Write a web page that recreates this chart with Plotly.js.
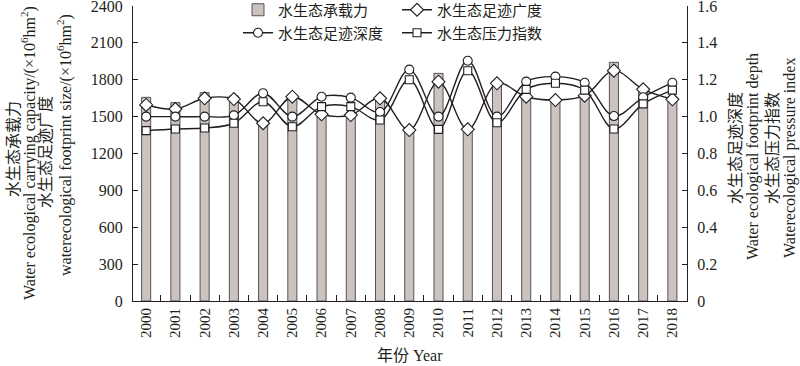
<!DOCTYPE html>
<html>
<head>
<meta charset="utf-8">
<script src="https://cdn.plot.ly/plotly-3.0.1.min.js"></script>
<style>html,body{margin:0;padding:0;background:#fff;}#chart{width:800px;height:366px;}</style>
</head>
<body>
<div id="chart"></div>
<script>
// ---- data ----
var years = ["2000","2001","2002","2003","2004","2005","2006","2007","2008","2009","2010","2011","2012","2013","2014","2015","2016","2017","2018"];
var carryingCapacity = [1657, 1614, 1695, 1668, 1430, 1680, 1510, 1500, 1630, 1380, 1852, 1380, 1757, 1665, 1630, 1670, 1942, 1720, 1662];
var footprintSize = [1595, 1562, 1649, 1643, 1446, 1662, 1519, 1513, 1649, 1391, 1784, 1397, 1771, 1662, 1635, 1670, 1874, 1722, 1641];
var footprintDepth = [1.00, 1.00, 1.00, 1.007, 1.127, 1.00, 1.108, 1.103, 1.025, 1.255, 1.00, 1.303, 1.00, 1.19, 1.217, 1.184, 1.003, 1.105, 1.184];
var pressureIndex = [0.924, 0.933, 0.938, 0.964, 1.081, 0.945, 1.054, 1.054, 0.982, 1.20, 0.931, 1.249, 0.967, 1.148, 1.181, 1.144, 0.933, 1.069, 1.144];

var leftTicks = [0, 300, 600, 900, 1200, 1500, 1800, 2100, 2400];
var rightTickVals = [0, 0.2, 0.4, 0.6, 0.8, 1.0, 1.2, 1.4, 1.6];
var rightTickText = ["0", "0.2", "0.4", "0.6", "0.8", "1.0", "1.2", "1.4", "1.6"];

var names = ["水生态承载力", "水生态足迹广度", "水生态足迹深度", "水生态压力指数"];

var FONT = "Liberation Serif, Noto Sans CJK SC, serif";
var INK = "#231f20";

var lineStyle = {color: INK, width: 1.4, shape: "spline", smoothing: 1};
function mk(sym, size) {
  return {symbol: sym, size: size, color: "#ffffff", line: {color: INK, width: 1.1}};
}

var traces = [
  {type: "bar", x: years, y: carryingCapacity, name: names[0], width: 0.31,
   marker: {color: "#cbc3bf", line: {color: "#5a5252", width: 1}}, legend: "legend"},
  {type: "scatter", mode: "lines+markers", x: years, y: footprintSize, name: names[1],
   line: lineStyle, marker: mk("diamond", 10), legend: "legend"},
  {type: "scatter", mode: "lines+markers", x: years, y: footprintDepth, name: names[2], yaxis: "y2",
   line: lineStyle, marker: mk("circle", 9), legend: "legend2"},
  {type: "scatter", mode: "lines+markers", x: years, y: pressureIndex, name: names[3], yaxis: "y2",
   line: lineStyle, marker: mk("square", 8), legend: "legend2"}
];

function px2x(px) { return (px - 133) / 554; }
function px2y(py) { return (301 - py) / 295; }

function vtitle(text, cx, cy, size) {
  return {text: text, xref: "paper", yref: "paper", x: px2x(cx), y: px2y(cy),
          xanchor: "center", yanchor: "middle", textangle: -90, showarrow: false,
          font: {family: FONT, size: size, color: INK}};
}

var legendCommon = {orientation: "h", xref: "paper", yref: "paper", xanchor: "left", yanchor: "middle",
  bgcolor: "rgba(0,0,0,0)", borderwidth: 0, entrywidth: 114, entrywidthmode: "pixels",
  font: {family: "Noto Sans CJK SC, sans-serif", size: 15, color: INK}, traceorder: "normal"};

var layout = {
  width: 800, height: 366,
  margin: {l: 133, r: 113, t: 6, b: 65, pad: 0, autoexpand: false},
  paper_bgcolor: "#ffffff", plot_bgcolor: "#ffffff",
  font: {family: FONT, color: INK},
  showlegend: true,
  legend: Object.assign({}, legendCommon, {x: px2x(238), y: px2y(10)}),
  legend2: Object.assign({}, legendCommon, {x: px2x(238), y: px2y(33)}),
  xaxis: {type: "category", range: [-0.45, 18.5], showline: true, linecolor: INK, linewidth: 1,
          ticks: "inside", ticklen: 6, tickcolor: INK, tickson: "boundaries", tickangle: -90,
          tickfont: {family: FONT, size: 15, color: INK}, showgrid: false, zeroline: false,
          automargin: false, ticklabeloverflow: "allow", fixedrange: true},
  yaxis: {range: [0, 2400], tickvals: leftTicks, showline: true, linecolor: INK, linewidth: 1,
          ticks: "inside", ticklen: 5, tickcolor: INK, showgrid: false, zeroline: false, automargin: false,
          ticklabeloverflow: "allow",
          tickfont: {family: FONT, size: 16, color: INK}, ticklabelstandoff: 6},
  yaxis2: {range: [0, 1.6], tickvals: rightTickVals, ticktext: rightTickText, overlaying: "y", side: "right",
           showline: true, linecolor: INK, linewidth: 1, ticks: "inside", ticklen: 5, tickcolor: INK,
           showgrid: false, zeroline: false, automargin: false, ticklabeloverflow: "allow",
           tickfont: {family: FONT, size: 16, color: INK}, ticklabelstandoff: 6},
  annotations: [
    vtitle("水生态承载力", 13, 149, 16),
    vtitle("Water ecological carrying capacity/(×10<sup>6</sup>hm<sup>2</sup>)", 28, 153, 16),
    vtitle("水生态足迹广度", 45, 152, 16),
    vtitle("waterecological footprint size/(×10<sup>6</sup>hm<sup>2</sup>)", 64, 145, 16),
    vtitle("水生态足迹深度", 735, 148, 16),
    vtitle("Water ecological footprint depth", 753, 157, 16),
    vtitle("水生态压力指数", 772, 148, 16),
    vtitle("Waterecological pressure index", 790, 158, 16),
    {text: "年份 Year", xref: "paper", yref: "paper", x: px2x(410), y: px2y(355),
     xanchor: "center", yanchor: "middle", showarrow: false,
     font: {family: FONT, size: 16, color: INK}}
  ]
};

Plotly.newPlot("chart", traces, layout, {displayModeBar: false, staticPlot: true});
</script>
</body>
</html>
